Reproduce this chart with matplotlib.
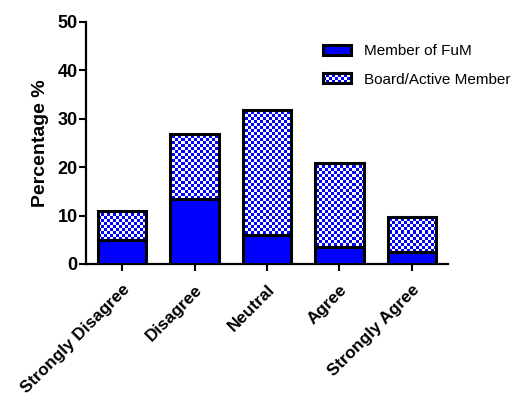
import numpy as np
import matplotlib
matplotlib.use("Agg")
import matplotlib.pyplot as plt
from matplotlib.colors import ListedColormap
from matplotlib.patches import Rectangle, Patch
from matplotlib.legend_handler import HandlerBase

categories = ["Strongly Disagree", "Disagree", "Neutral", "Agree", "Strongly Agree"]
member_of_fum = [5.0, 13.5, 6.0, 3.6, 2.4]
board_active = [6.0, 13.3, 25.7, 17.2, 7.35]
series_names = ["Member of FuM", "Board/Active Member"]
y_ticks = [0, 10, 20, 30, 40, 50]

BLUE = "#0000ff"
CELL_PX = 3.0
DPI = 100

plt.rcParams["font.family"] = ["Liberation Sans", "DejaVu Sans"]

fig = plt.figure(figsize=(5.15, 3.98), dpi=DPI)
ax = fig.add_axes([86 / 515, 1 - 264 / 398, (448 - 86) / 515, (264 - 21.7) / 398])

x = np.arange(len(categories))
width = 0.67

ax.bar(x, member_of_fum, width, color=BLUE, edgecolor="black", linewidth=2.2, zorder=3)
tops = ax.bar(x, board_active, width, bottom=member_of_fum, facecolor="none",
              edgecolor="black", linewidth=2.2, zorder=3)

# checkerboard fill, clipped to each stacked segment
ax_w_px = fig.get_figwidth() * DPI * ax.get_position().width
ax_h_px = fig.get_figheight() * DPI * ax.get_position().height
nx = int(round(ax_w_px / CELL_PX))
ny = int(round(ax_h_px / CELL_PX))
checker = (np.add.outer(np.arange(ny), np.arange(nx)) % 2).astype(float)
cmap = ListedColormap(["white", BLUE])
for patch in tops.patches:
    im = ax.imshow(checker, cmap=cmap, vmin=0, vmax=1, interpolation="nearest",
                   extent=(0, 1, 0, 1), transform=ax.transAxes, aspect="auto",
                   zorder=2)
    im.set_clip_path(patch)

ax.set_xlim(-0.5, len(categories) - 0.5)
ax.set_ylim(0, 50)
ax.set_yticks(y_ticks)
ax.set_xticks(x)
ax.set_xticklabels(categories, rotation=45, ha="right", rotation_mode="anchor",
                   fontsize=12.3, fontweight="bold")
for lab in ax.get_yticklabels():
    lab.set_fontsize(13)
    lab.set_fontweight("bold")
ax.set_ylabel("Percentage %", fontsize=14, fontweight="bold", labelpad=6)

for side in ("top", "right"):
    ax.spines[side].set_visible(False)
for side in ("left", "bottom"):
    ax.spines[side].set_linewidth(1.6)
ax.tick_params(axis="both", direction="out", length=5, width=1.5, color="black")
ax.tick_params(axis="y", pad=1)
ax.tick_params(axis="x", pad=8)


class CheckerHandler(HandlerBase):
    def create_artists(self, legend, orig_handle, xdescent, ydescent, width,
                       height, fontsize, trans):
        x0, y0 = -xdescent, -ydescent
        arts = [Rectangle((x0, y0), width, height, facecolor="white",
                          edgecolor="none", transform=trans)]
        cell = CELL_PX * 72.0 / DPI
        ncol = int(np.ceil(width / cell))
        nrow = int(np.ceil(height / cell))
        for r in range(nrow):
            for c in range(ncol):
                if (r + c) % 2:
                    w = min(cell, width - c * cell)
                    h = min(cell, height - r * cell)
                    arts.append(Rectangle((x0 + c * cell, y0 + r * cell), w, h,
                                          facecolor=BLUE, edgecolor="none",
                                          transform=trans))
        arts.append(Rectangle((x0, y0), width, height, facecolor="none",
                              edgecolor="black", linewidth=2.2, transform=trans))
        return arts


h_member = Patch(facecolor=BLUE, edgecolor="black", linewidth=2.2)
h_board = Patch(facecolor="white", edgecolor="black")
ax.legend([h_member, h_board], series_names,
          handler_map={h_board: CheckerHandler()},
          loc="upper left", bbox_to_anchor=(323 / 515, 1 - 44 / 398),
          bbox_transform=fig.transFigure, frameon=False, fontsize=11,
          handlelength=1.85, handleheight=0.65, handletextpad=0.85,
          labelspacing=0.95, borderpad=0, borderaxespad=0)

fig.savefig("out.png", dpi=DPI)
